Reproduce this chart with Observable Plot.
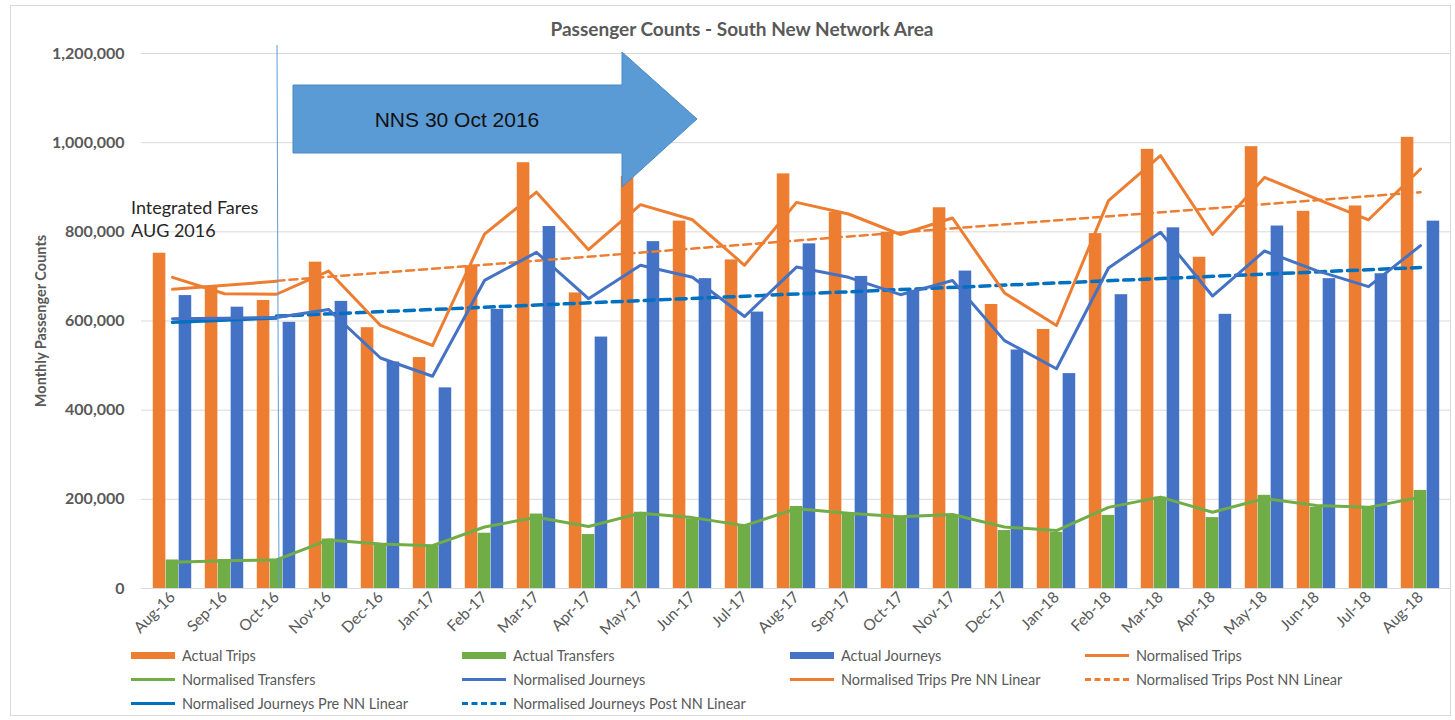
<!DOCTYPE html>
<html><head><meta charset="utf-8">
<script src="https://cdn.jsdelivr.net/npm/d3@7"></script>
<script src="https://cdn.jsdelivr.net/npm/@observablehq/plot@0.6"></script>
<style>
body{margin:0;background:#fff;font-family:Lato,"Open Sans",sans-serif;}
#wrap{position:relative;width:1455px;height:720px;overflow:hidden;}
#frame{position:absolute;left:10px;top:5px;width:1441px;height:711px;border:1px solid #d9d9d9;box-sizing:border-box;}
#title{position:absolute;top:17px;left:0;width:1484px;text-align:center;font-weight:bold;font-size:19px;color:#595959;}
#chart{position:absolute;top:45px;left:0;}
.li{position:absolute;font-size:14.5px;color:#595959;display:flex;align-items:center;height:20px;white-space:nowrap;}
.sw{width:44px;margin-right:7px;}
</style></head><body>
<div id="wrap">
<div id="frame"></div>
<div id="title">Passenger Counts - South New Network Area</div>
<div id="chart"></div>
<div id="legend"></div>
</div>
<script>
const months = ["Aug-16","Sep-16","Oct-16","Nov-16","Dec-16","Jan-17","Feb-17","Mar-17","Apr-17","May-17","Jun-17","Jul-17","Aug-17","Sep-17","Oct-17","Nov-17","Dec-17","Jan-18","Feb-18","Mar-18","Apr-18","May-18","Jun-18","Jul-18","Aug-18"];
const actualTrips = [752000,678000,646000,732000,585000,518000,724000,955000,663000,924000,824000,737000,930000,844000,799000,854000,637000,581000,796000,985000,743000,991000,846000,858000,1012000];
const actualTransfers = [64000,65000,66000,111000,100000,96000,124000,167000,121000,171000,156000,141000,184000,168000,162000,164000,130000,126000,164000,205000,159000,209000,182000,182000,220000];
const actualJourneys = [657000,631000,597000,644000,508000,450000,626000,812000,564000,778000,695000,620000,773000,700000,668000,712000,535000,482000,659000,809000,615000,813000,695000,706000,824000];
const normTrips = [698000,661000,660000,712000,590000,545000,795000,889000,760000,861000,827000,725000,866000,840000,794000,831000,663000,590000,870000,971000,794000,922000,874000,827000,941000];
const normTransfers = [59000,62000,64000,109000,100000,96000,138000,160000,139000,169000,159000,141000,179000,169000,161000,166000,138000,130000,182000,205000,171000,202000,186000,182000,205000];
const normJourneys = [605000,606000,608000,626000,517000,476000,691000,754000,650000,725000,698000,610000,721000,698000,659000,691000,556000,493000,719000,799000,656000,757000,713000,677000,769000];
const preMonths = ["Aug-16","Oct-16"];
const tripsPre = [671000,689000];
const journeysPre = [597000,607000];
const postMonths = ["Oct-16","Aug-18"];
const tripsPost = [690000,889000];
const journeysPost = [611000,720000];
const yTicks = [0,200000,400000,600000,800000,1000000,1200000];

const C = {orange:"#ED7D31", green:"#70AD47", blue:"#4472C4", dblue:"#0070C0"};

const rows = months.map((m,i)=>({month:m, trips:actualTrips[i], transfers:actualTransfers[i], journeys:actualJourneys[i], nTrips:normTrips[i], nTransfers:normTransfers[i], nJourneys:normJourneys[i]}));
const pre = preMonths.map((m,i)=>({month:m, trips:tripsPre[i], journeys:journeysPre[i]}));
const post = postMonths.map((m,i)=>({month:m, trips:tripsPost[i], journeys:journeysPost[i]}));

const W=1455, H=590, mL=141, mR=5, mT=8, mB=47;
const step=(W-mL-mR)/months.length;
const bw=step*0.247;
const inset=(step-bw)/2;
const fmt=d3.format(",");

const chart = Plot.plot({
  width:W, height:H, marginLeft:mL, marginRight:mR, marginTop:mT, marginBottom:mB,
  style:{fontFamily:"Lato, sans-serif", fontSize:"13px", color:"#595959", background:"transparent", overflow:"visible"},
  x:{type:"band", domain:months, padding:0, label:null},
  y:{domain:[0,1200000], label:null},
  marks:[
    Plot.gridY(yTicks,{stroke:"#d9d9d9", strokeOpacity:1}),
    Plot.axisY(yTicks,{tickSize:0, tickPadding:17, tickFormat:fmt, fontSize:16, fontWeight:"bold", label:"Monthly Passenger Counts", labelAnchor:"center", labelOffset:106, labelArrow:"none"}),
    Plot.axisX({tickSize:0, tickRotate:-45, tickPadding:6, fontSize:15.5, label:null}),
    Plot.barY(rows,{x:"month", y:"trips", fill:C.orange, insetLeft:inset, insetRight:inset, dx:-bw}),
    Plot.barY(rows,{x:"month", y:"transfers", fill:C.green, insetLeft:inset, insetRight:inset}),
    Plot.barY(rows,{x:"month", y:"journeys", fill:C.blue, insetLeft:inset, insetRight:inset, dx:bw}),
    Plot.lineY(pre,{x:"month", y:"trips", stroke:C.orange, strokeWidth:3}),
    Plot.lineY(pre,{x:"month", y:"journeys", stroke:C.dblue, strokeWidth:3.5}),
    Plot.lineY(post,{x:"month", y:"trips", stroke:C.orange, strokeWidth:2.5, strokeDasharray:"8,5"}),
    Plot.lineY(post,{x:"month", y:"journeys", stroke:C.dblue, strokeWidth:3.5, strokeDasharray:"10,6"}),
    Plot.lineY(rows,{x:"month", y:"nTrips", stroke:C.orange, strokeWidth:3}),
    Plot.lineY(rows,{x:"month", y:"nJourneys", stroke:C.blue, strokeWidth:3}),
    Plot.lineY(rows,{x:"month", y:"nTransfers", stroke:C.green, strokeWidth:3})
  ]
});
document.getElementById("chart").appendChild(chart);
// bigger y-axis title
d3.select(chart).selectAll("g[aria-label='y-axis label'] text, g[aria-label='y-axis label']").attr("font-size",14.5);

// annotations
const svg = d3.select(chart);
svg.append("line").attr("x1",277).attr("x2",279).attr("y1",0).attr("y2",543)
  .attr("stroke","#5B9BD5").attr("stroke-width",1);
svg.append("polygon")
  .attr("points","293,40 622,40 622,7 697,74 622,142 622,108 293,108")
  .attr("fill","#5B9BD5").attr("stroke","#4A89C4").attr("stroke-width",1);
svg.append("text").attr("x",457).attr("y",82).attr("text-anchor","middle")
  .attr("font-family","Liberation Sans, Arial, sans-serif").attr("font-size",21).attr("fill","#111")
  .text("NNS 30 Oct 2016");
const ann = svg.append("text").attr("text-anchor","start").attr("font-family","Lato, sans-serif").attr("font-size",18).attr("fill","#262626");
ann.append("tspan").attr("x",131).attr("y",169).text("Integrated Fares");
ann.append("tspan").attr("x",131).attr("y",192).text("AUG 2016");

// legend
const legendItems = [
  {label:"Actual Trips", kind:"bar", color:C.orange},
  {label:"Actual Transfers", kind:"bar", color:C.green},
  {label:"Actual Journeys", kind:"bar", color:C.blue},
  {label:"Normalised Trips", kind:"line", color:C.orange},
  {label:"Normalised Transfers", kind:"line", color:C.green},
  {label:"Normalised Journeys", kind:"line", color:C.blue},
  {label:"Normalised Trips Pre NN Linear", kind:"line", color:C.orange},
  {label:"Normalised Trips Post NN Linear", kind:"dash", color:C.orange},
  {label:"Normalised Journeys Pre NN Linear", kind:"line", color:C.dblue},
  {label:"Normalised Journeys Post NN Linear", kind:"dash", color:C.dblue}
];
const colX=[131,462,790,1085], rowY=[645,669,693];
const leg=document.getElementById("legend");
legendItems.forEach((it,i)=>{
  const d=document.createElement("div");
  d.className="li";
  d.style.left=colX[i%4]+"px"; d.style.top=rowY[Math.floor(i/4)]+"px";
  const sw=document.createElement("div"); sw.className="sw";
  if(it.kind==="bar"){sw.style.height="7px";sw.style.background=it.color;}
  else if(it.kind==="line"){sw.style.height="3px";sw.style.background=it.color;}
  else {sw.style.height="0";sw.style.borderTop="3px dashed "+it.color;}
  d.appendChild(sw);
  const t=document.createElement("span"); t.textContent=it.label; d.appendChild(t);
  leg.appendChild(d);
});
</script>
</body></html>
